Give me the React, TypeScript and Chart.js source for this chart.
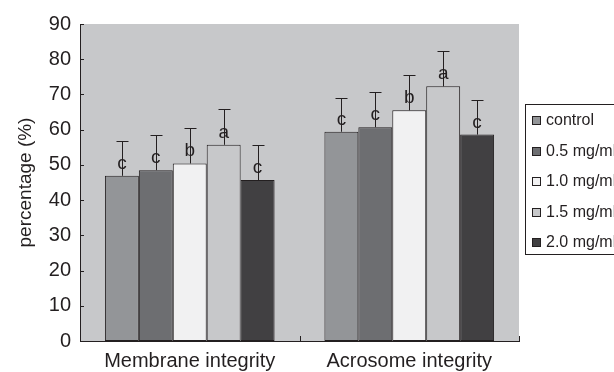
import React, { useEffect, useRef } from "react";
import { Chart, registerables } from "chart.js";

Chart.register(...registerables);

const categories = ["Membrane integrity", "Acrosome integrity"];
const seriesLabels = ["control", "0.5 mg/ml", "1.0 mg/ml", "1.5 mg/ml", "2.0 mg/ml"];
const controlValues = [46.9, 59.4];
const dose05Values = [48.5, 60.7];
const dose10Values = [50.4, 65.5];
const dose15Values = [55.7, 72.3];
const dose20Values = [45.7, 58.6];
const controlErr = [10.0, 9.7];
const dose05Err = [10.0, 10.0];
const dose10Err = [10.2, 9.9];
const dose15Err = [10.2, 10.0];
const dose20Err = [9.9, 9.7];
const controlLetters = ["c", "c"];
const dose05Letters = ["c", "c"];
const dose10Letters = ["b", "b"];
const dose15Letters = ["a", "a"];
const dose20Letters = ["c", "c"];
const yTicks = [0, 10, 20, 30, 40, 50, 60, 70, 80, 90];

const FONT = '"Liberation Sans", Arial, Helvetica, sans-serif';
const INK = "#231f20";
const colors = ["#939598", "#6d6e71", "#f1f1f2", "#c7c8ca", "#414042"];
const allValues = [controlValues, dose05Values, dose10Values, dose15Values, dose20Values];
const allErr = [controlErr, dose05Err, dose10Err, dose15Err, dose20Err];
const allLetters = [controlLetters, dose05Letters, dose10Letters, dose15Letters, dose20Letters];

export default function App() {
  const ref = useRef<HTMLCanvasElement | null>(null);
  useEffect(() => {
    if (!ref.current) return;
    const bgPlugin = {
      id: "bg",
      beforeDraw(chart: any) {
        const { ctx, chartArea: a } = chart;
        ctx.save();
        ctx.fillStyle = "#c7c8ca";
        ctx.fillRect(a.left, a.top, a.right - a.left, a.bottom - a.top);
        ctx.restore();
      },
    };
    const overlay = {
      id: "overlay",
      afterDatasetsDraw(chart: any) {
        const { ctx, chartArea: a } = chart;
        const y = chart.scales.y;
        const x = chart.scales.x;
        ctx.save();
        ctx.strokeStyle = INK;
        ctx.fillStyle = INK;
        ctx.lineWidth = 1;
        // error bars and letters
        chart.data.datasets.forEach((ds: any, di: number) => {
          const meta = chart.getDatasetMeta(di);
          meta.data.forEach((bar: any, i: number) => {
            const top = y.getPixelForValue(ds.data[i] + allErr[di][i]);
            const bx = Math.round(bar.x) + 0.5;
            ctx.beginPath();
            ctx.moveTo(bx, bar.y);
            ctx.lineTo(bx, Math.round(top) + 0.5);
            ctx.moveTo(bx - 6, Math.round(top) + 0.5);
            ctx.lineTo(bx + 6, Math.round(top) + 0.5);
            ctx.stroke();
            ctx.font = `19px ${FONT}`;
            ctx.textAlign = "center";
            ctx.textBaseline = "alphabetic";
            ctx.fillText(allLetters[di][i], bar.x, bar.y - 7);
          });
        });
        // inward ticks on y axis
        yTicks.forEach((v) => {
          const py = Math.round(y.getPixelForValue(v)) + 0.5;
          ctx.beginPath();
          ctx.moveTo(a.left, py);
          ctx.lineTo(a.left + 4, py);
          ctx.stroke();
        });
        // inward ticks on x axis at category boundaries
        const n = categories.length;
        for (let i = 0; i <= n; i++) {
          const px = Math.round(x.getPixelForValue(i - 0.5)) + 0.5;
          ctx.beginPath();
          ctx.moveTo(px, a.bottom);
          ctx.lineTo(px, a.bottom - 5);
          ctx.stroke();
        }
        // legend
        const lx = 525.5, ly = 104.5;
        ctx.fillStyle = "#ffffff";
        ctx.fillRect(lx, ly, 120, 150);
        ctx.strokeRect(lx, ly, 120, 150);
        ctx.font = `16px ${FONT}`;
        ctx.textAlign = "left";
        ctx.textBaseline = "middle";
        chart.data.datasets.forEach((ds: any, di: number) => {
          const cy = 120 + di * 30.5;
          ctx.fillStyle = ds.backgroundColor;
          ctx.fillRect(532.5, Math.round(cy - 4) + 0.5, 8, 8);
          ctx.strokeRect(532.5, Math.round(cy - 4) + 0.5, 8, 8);
          ctx.fillStyle = INK;
          ctx.fillText(ds.label, 546, cy + 1);
        });
        ctx.restore();
      },
    };
    const chart = new Chart(ref.current, {
      type: "bar",
      data: {
        labels: categories,
        datasets: seriesLabels.map((label, i) => ({
          label,
          data: allValues[i],
          backgroundColor: colors[i],
          borderColor: INK,
          borderWidth: 1,
          borderSkipped: false,
          categoryPercentage: 0.773,
          barPercentage: 1,
        })),
      },
      options: {
        responsive: false,
        animation: false,
        layout: { padding: { left: 0, top: 24, right: 95, bottom: 0 } },
        plugins: { legend: { display: false }, tooltip: { enabled: false } },
        scales: {
          x: {
            grid: { display: false, drawTicks: false },
            border: { display: true, color: INK, width: 1 },
            ticks: { color: INK, font: { family: FONT, size: 20 }, padding: 8, maxRotation: 0 },
            afterFit: (s: any) => { s.height = 31; },
          },
          y: {
            min: 0,
            max: 90,
            grid: { display: false, drawTicks: false },
            border: { display: true, color: INK, width: 1 },
            ticks: { stepSize: 10, color: INK, font: { family: FONT, size: 20 }, padding: 9 },
            title: {
              display: true,
              text: "percentage (%)",
              color: INK,
              font: { family: FONT, size: 19 },
              padding: { top: 14, bottom: 0 },
            },
            afterFit: (s: any) => { s.width = 80; },
          },
        },
      },
      plugins: [bgPlugin, overlay],
    });
    return () => chart.destroy();
  }, []);
  return (
    <div style={{ position: "fixed", left: 0, top: 0, width: 614, height: 372, overflow: "hidden", background: "#fff" }}>
      <canvas ref={ref} width={614} height={372} style={{ display: "block" }} />
    </div>
  );
}
